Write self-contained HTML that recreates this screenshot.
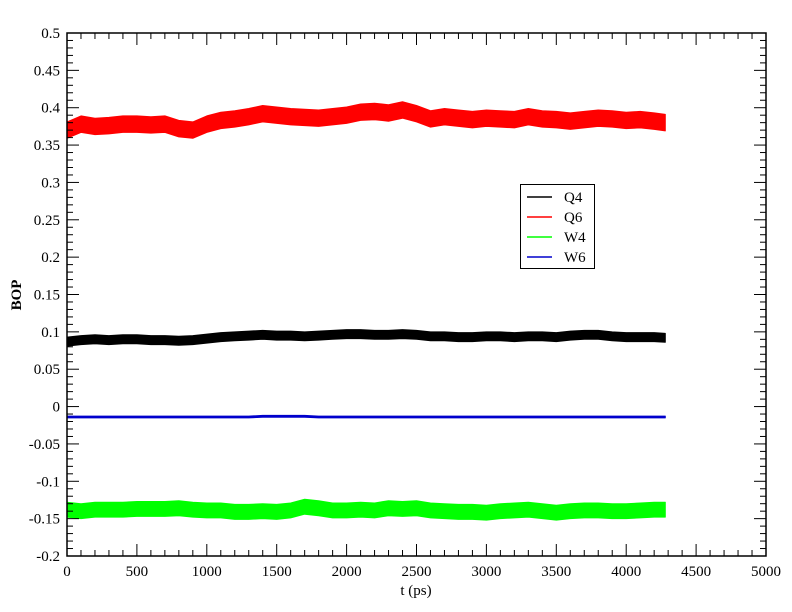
<!DOCTYPE html>
<html><head><meta charset="utf-8"><style>
body{margin:0;background:#fff}
svg{display:block;font-family:"Liberation Serif",serif}
text{font-family:"Liberation Serif","DejaVu Serif",serif}
</style></head><body>
<svg id="c" width="792" height="612" viewBox="0 0 792 612"></svg>
<script>
const xTicks=[0,500,1000,1500,2000,2500,3000,3500,4000,4500,5000];
const yTicks=[-0.2,-0.15,-0.1,-0.05,0,0.05,0.1,0.15,0.2,0.25,0.3,0.35,0.4,0.45,0.5];
const yLabels=["-0.2","-0.15","-0.1","-0.05","0","0.05","0.1","0.15","0.2","0.25","0.3","0.35","0.4","0.45","0.5"];
const times=[0,100,200,300,400,500,600,700,800,900,1000,1100,1200,1300,1400,1500,1600,1700,1800,1900,2000,2100,2200,2300,2400,2500,2600,2700,2800,2900,3000,3100,3200,3300,3400,3500,3600,3700,3800,3900,4000,4100,4200,4280];
const q6=[0.370,0.378,0.375,0.376,0.378,0.378,0.377,0.378,0.372,0.370,0.378,0.383,0.385,0.388,0.392,0.390,0.388,0.387,0.386,0.388,0.390,0.394,0.395,0.393,0.397,0.392,0.385,0.388,0.386,0.384,0.386,0.385,0.384,0.388,0.385,0.384,0.382,0.384,0.386,0.385,0.383,0.384,0.382,0.380];
const q4=[0.087,0.089,0.090,0.089,0.090,0.090,0.089,0.089,0.088,0.089,0.091,0.093,0.094,0.095,0.096,0.095,0.095,0.094,0.095,0.096,0.097,0.097,0.096,0.096,0.097,0.096,0.094,0.094,0.093,0.093,0.094,0.094,0.093,0.094,0.094,0.093,0.095,0.096,0.096,0.094,0.093,0.093,0.093,0.092];
const w4=[-0.138,-0.140,-0.138,-0.138,-0.138,-0.137,-0.137,-0.137,-0.136,-0.138,-0.139,-0.139,-0.141,-0.141,-0.140,-0.141,-0.139,-0.134,-0.136,-0.139,-0.139,-0.138,-0.139,-0.136,-0.137,-0.136,-0.139,-0.140,-0.141,-0.141,-0.142,-0.140,-0.139,-0.138,-0.140,-0.142,-0.140,-0.139,-0.139,-0.140,-0.140,-0.139,-0.138,-0.138];
const w6=[-0.014,-0.014,-0.014,-0.014,-0.014,-0.014,-0.014,-0.014,-0.014,-0.014,-0.014,-0.014,-0.014,-0.014,-0.013,-0.013,-0.013,-0.013,-0.014,-0.014,-0.014,-0.014,-0.014,-0.014,-0.014,-0.014,-0.014,-0.014,-0.014,-0.014,-0.014,-0.014,-0.014,-0.014,-0.014,-0.014,-0.014,-0.014,-0.014,-0.014,-0.014,-0.014,-0.014,-0.014];
const noiseAmp=[0.006,0.011,0.010,0.0012];
const seriesNames=["Q4","Q6","W4","W6"];
const seriesColors=["#000000","#ff0000","#00ff00","#0000cc"];
const seriesData=[q4,q6,w4,w6];

const L=67,R=766,T=33,B=556;
const sx=v=>L+(v-0)/(5000)*(R-L);
const sy=v=>B-(v+0.2)/0.7*(B-T);
const svg=document.getElementById('c');
const NS='http://www.w3.org/2000/svg';
function mk(t,a,txt){const e=document.createElementNS(NS,t);for(const k in a)e.setAttribute(k,a[k]);if(txt!=null)e.textContent=txt;svg.appendChild(e);return e;}

seriesData.forEach((d,i)=>{
  const a=noiseAmp[i];
  let up=times.map((t,j)=>sx(t).toFixed(1)+','+sy(d[j]+a).toFixed(1));
  let dn=times.map((t,j)=>sx(t).toFixed(1)+','+sy(d[j]-a).toFixed(1)).reverse();
  const p=mk('polygon',{points:up.concat(dn).join(' '),fill:seriesColors[i],stroke:seriesColors[i],'stroke-width':1,'stroke-linejoin':'round'});
  
  
});

const fr=mk('rect',{x:L,y:T,width:R-L,height:B-T,fill:'none',stroke:'#000','stroke-width':1.5});



for(let v=0;v<=5000;v+=100){
  const maj=v%500===0,len=maj?12:6,x=sx(v);
  mk('line',{x1:x,y1:B,x2:x,y2:B-len,stroke:'#000','stroke-width':1});
  mk('line',{x1:x,y1:T,x2:x,y2:T+len,stroke:'#000','stroke-width':1});
}
xTicks.forEach(v=>{
  const t=mk('text',{x:sx(v),y:576,'font-size':15,'text-anchor':'middle','font-family':'Liberation Serif, serif'},String(v));
  
  
});
for(let k=0;k<=70;k++){
  const v=-0.2+k*0.01,maj=k%5===0,len=maj?12:6,y=sy(v);
  mk('line',{x1:L,y1:y,x2:L+len,y2:y,stroke:'#000','stroke-width':1});
  mk('line',{x1:R,y1:y,x2:R-len,y2:y,stroke:'#000','stroke-width':1});
}
yTicks.forEach((v,i)=>{
  const t=mk('text',{x:60,y:sy(v)+5,'font-size':15,'text-anchor':'end','font-family':'Liberation Serif, serif'},yLabels[i]);
  
  
});
const xt=mk('text',{x:416,y:595,'font-size':15,'text-anchor':'middle','font-family':'Liberation Serif, serif'},'t (ps)');


const yt=mk('text',{x:0,y:0,'font-size':15,'text-anchor':'middle','font-weight':'bold','font-family':'Liberation Serif, serif',transform:'translate(21,295) rotate(-90)'},'BOP');



const lb=mk('rect',{x:520.5,y:184.5,width:74,height:84,fill:'#fff',stroke:'#000','stroke-width':1});


seriesNames.forEach((n,i)=>{
  const y=197+i*20;
  const ln=mk('line',{x1:527,y1:y,x2:552,y2:y,stroke:seriesColors[i],'stroke-width':1.5});
  
  
  const t=mk('text',{x:564,y:y+5,'font-size':15,'font-family':'Liberation Serif, serif'},n);
  
  
});
</script>
</body></html>
